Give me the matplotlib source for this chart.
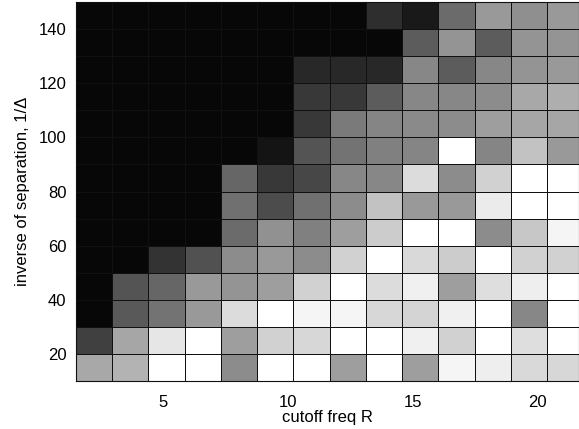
import numpy as np
import matplotlib
matplotlib.use("Agg")
import matplotlib.pyplot as plt

# grey level of each cell (0 = black, 1 = white), rows from 1/Delta = 10..20 upwards
row_10  = [0.66, 0.70, 1.00, 1.00, 0.55, 1.00, 1.00, 0.62, 1.00, 0.62, 0.96, 0.93, 0.85, 0.84]
row_20  = [0.25, 0.65, 0.90, 1.00, 0.62, 0.82, 0.84, 1.00, 1.00, 0.94, 0.82, 1.00, 0.87, 1.00]
row_30  = [0.03, 0.35, 0.45, 0.60, 0.86, 1.00, 0.96, 0.96, 0.84, 0.83, 0.94, 1.00, 0.53, 1.00]
row_40  = [0.03, 0.33, 0.40, 0.60, 0.58, 0.62, 0.82, 1.00, 0.86, 0.94, 0.62, 0.87, 0.93, 1.00]
row_50  = [0.03, 0.03, 0.20, 0.32, 0.55, 0.60, 0.55, 0.82, 1.00, 0.85, 0.80, 1.00, 0.82, 0.82]
row_60  = [0.03, 0.03, 0.03, 0.03, 0.42, 0.57, 0.50, 0.62, 0.80, 1.00, 1.00, 0.55, 0.78, 0.96]
row_70  = [0.03, 0.03, 0.03, 0.03, 0.44, 0.30, 0.44, 0.55, 0.76, 0.60, 0.60, 0.92, 1.00, 1.00]
row_80  = [0.03, 0.03, 0.03, 0.03, 0.40, 0.22, 0.28, 0.53, 0.53, 0.86, 0.55, 0.82, 1.00, 1.00]
row_90  = [0.03, 0.03, 0.03, 0.03, 0.03, 0.08, 0.33, 0.45, 0.50, 0.52, 1.00, 0.52, 0.76, 0.60]
row_100 = [0.03, 0.03, 0.03, 0.03, 0.03, 0.03, 0.22, 0.48, 0.52, 0.54, 0.55, 0.62, 0.65, 0.65]
row_110 = [0.03, 0.03, 0.03, 0.03, 0.03, 0.03, 0.22, 0.22, 0.36, 0.53, 0.53, 0.55, 0.66, 0.68]
row_120 = [0.03, 0.03, 0.03, 0.03, 0.03, 0.03, 0.16, 0.16, 0.16, 0.53, 0.36, 0.53, 0.58, 0.60]
row_130 = [0.03, 0.03, 0.03, 0.03, 0.03, 0.03, 0.03, 0.03, 0.03, 0.36, 0.58, 0.36, 0.58, 0.58]
row_140 = [0.03, 0.03, 0.03, 0.03, 0.03, 0.03, 0.03, 0.03, 0.18, 0.10, 0.42, 0.60, 0.56, 0.60]

x_ticks = [5, 10, 15, 20]
y_ticks = [20, 40, 60, 80, 100, 120, 140]

grid = np.array([row_10, row_20, row_30, row_40, row_50, row_60, row_70,
                 row_80, row_90, row_100, row_110, row_120, row_130, row_140])
n_rows, n_cols = grid.shape
r_edges = np.linspace(1.5, 21.83, n_cols + 1)
inv_edges = np.linspace(10, 150, n_rows + 1)

plt.rcParams["font.family"] = ["Liberation Sans", "DejaVu Sans"]

fig = plt.figure(figsize=(5.79, 4.29), dpi=100)
ax = fig.add_axes([76 / 579, 48 / 429, 503 / 579, 379 / 429])

ax.pcolormesh(r_edges, inv_edges, grid, cmap="gray", vmin=0, vmax=1,
              edgecolors="#111111", linewidth=0.7)

ax.set_xlim(1.5, 21.65)
ax.set_ylim(10, 150)
ax.set_xticks(x_ticks)
ax.set_yticks(y_ticks)
ax.tick_params(length=0, labelsize=12)
ax.tick_params(axis="x", pad=10)
ax.tick_params(axis="y", pad=7)
ax.set_xlabel("cutoff freq R", fontsize=12, labelpad=0)
ax.set_ylabel("inverse of separation, 1/\u0394", fontsize=12, labelpad=6)
for s in ax.spines.values():
    s.set_linewidth(0.8)
    s.set_color("#111111")

fig.savefig("out.png", dpi=100)
